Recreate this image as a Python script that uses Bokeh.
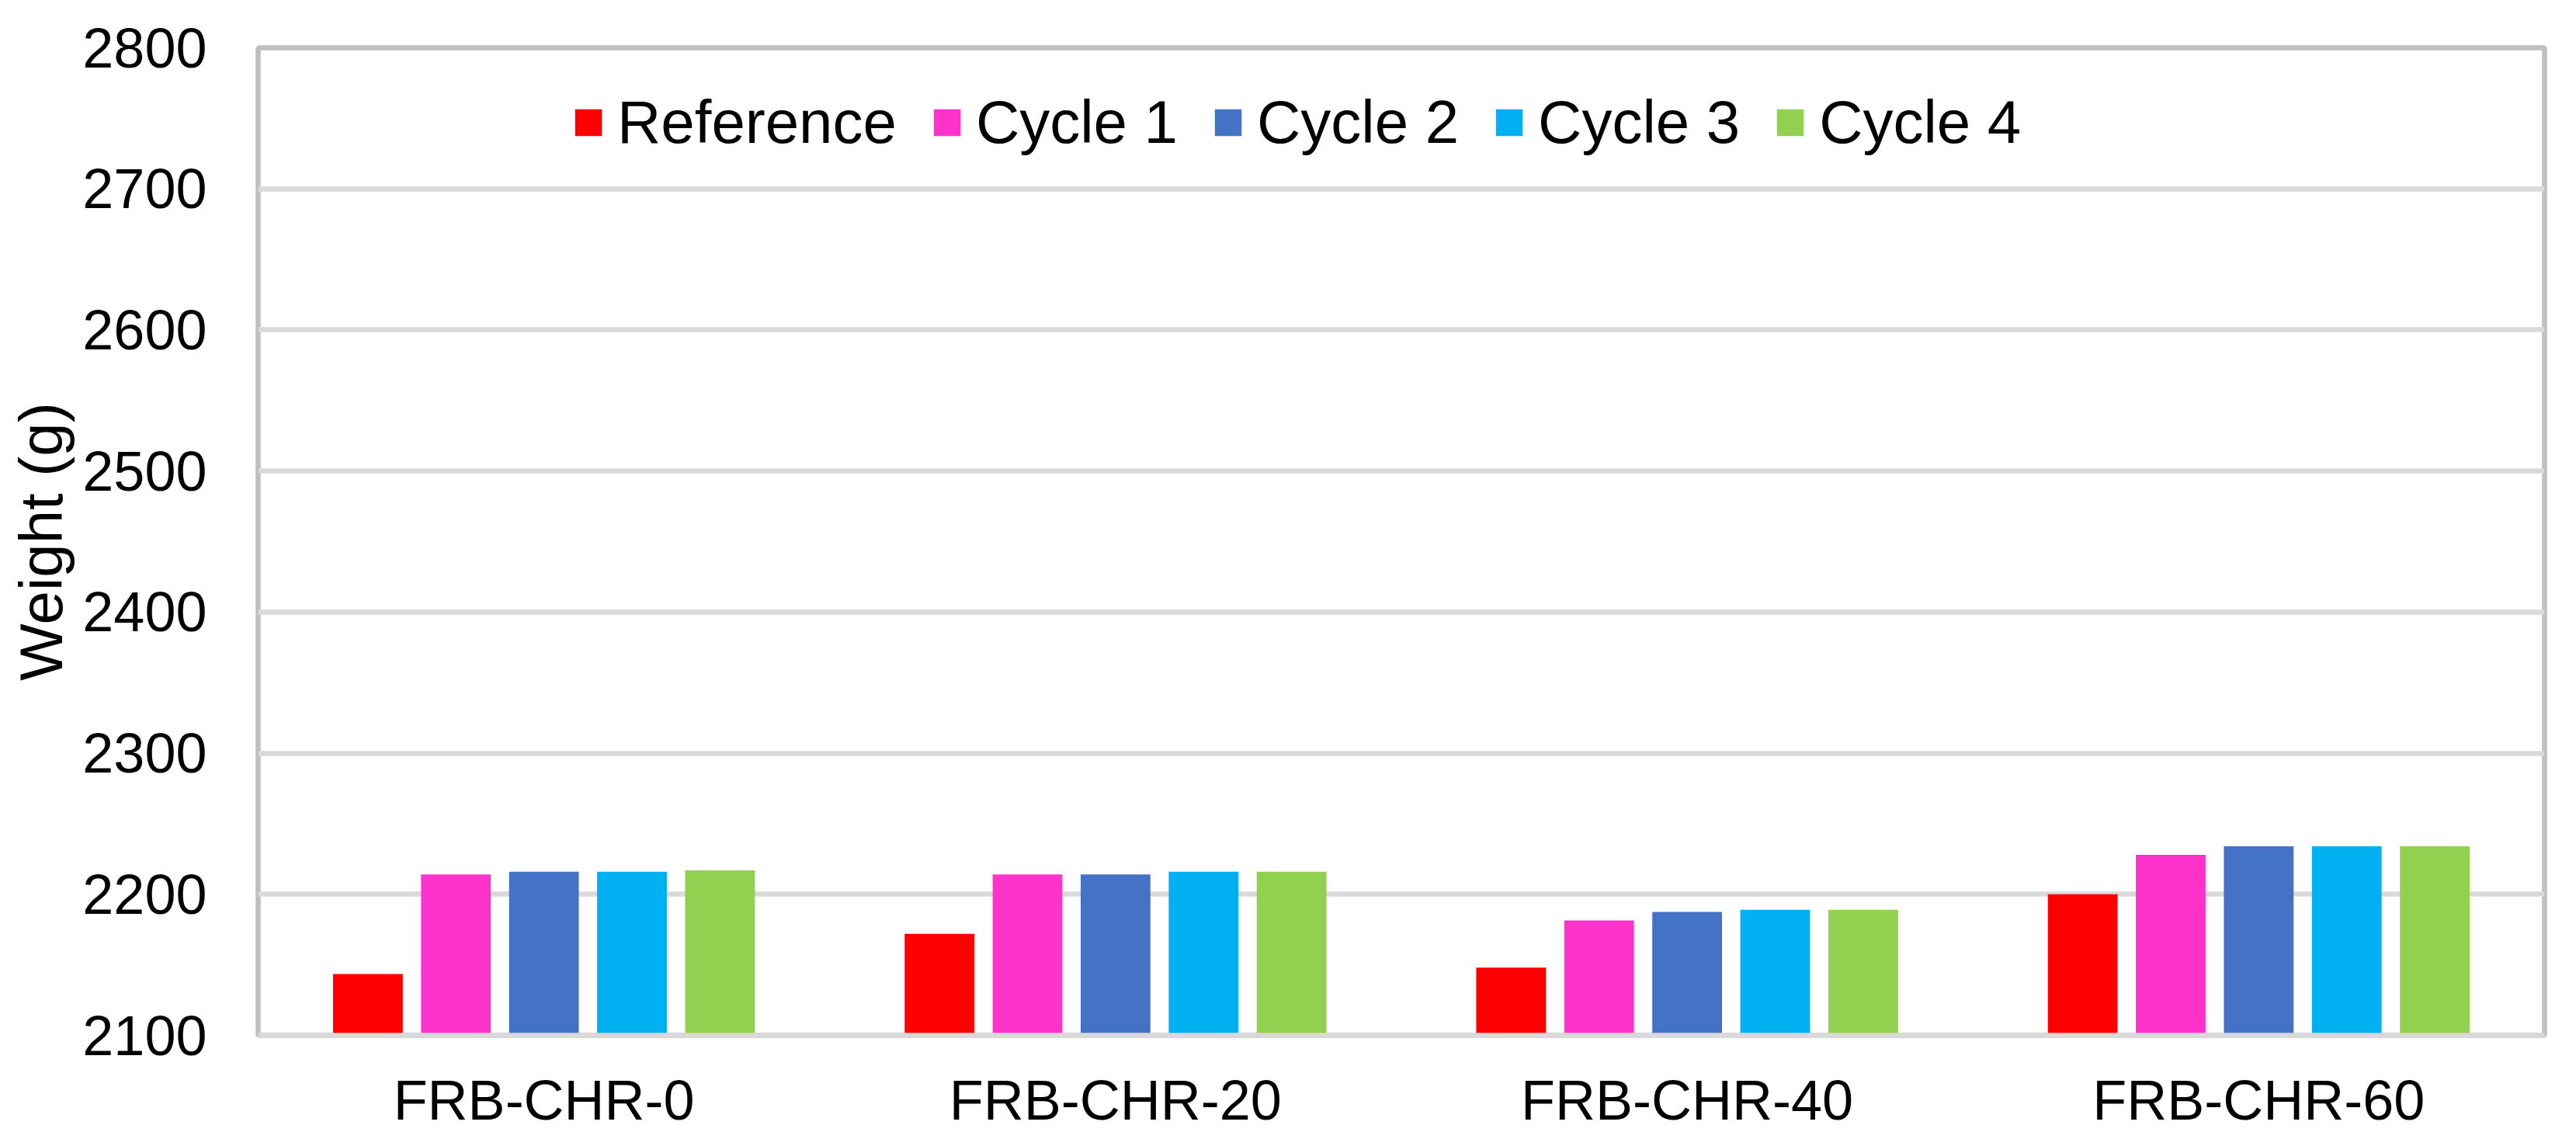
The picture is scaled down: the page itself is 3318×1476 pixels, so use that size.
from bokeh.plotting import figure
from bokeh.models import FactorRange, Range1d, FixedTicker, Legend, LegendItem, ColumnDataSource
from bokeh.transform import dodge
from bokeh.embed import file_html
from bokeh.resources import INLINE

categories = ["FRB-CHR-0", "FRB-CHR-20", "FRB-CHR-40", "FRB-CHR-60"]
series_names = ["Reference", "Cycle 1", "Cycle 2", "Cycle 3", "Cycle 4"]
reference = [2143.5, 2172, 2148, 2200]
cycle_1 = [2214, 2214, 2181.5, 2228]
cycle_2 = [2216, 2214, 2187.5, 2234]
cycle_3 = [2216, 2216, 2189, 2234]
cycle_4 = [2217, 2216, 2189, 2234]
colors = ["#FF0000", "#FF33CC", "#4472C4", "#00B0F0", "#92D050"]
y_ticks = [2100, 2200, 2300, 2400, 2500, 2600, 2700, 2800]

FONT = "Liberation Sans"

keys = ["reference", "cycle_1", "cycle_2", "cycle_3", "cycle_4"]
source = ColumnDataSource(data=dict(
    cat=categories, reference=reference, cycle_1=cycle_1,
    cycle_2=cycle_2, cycle_3=cycle_3, cycle_4=cycle_4))

p = figure(x_range=FactorRange(*categories), y_range=Range1d(y_ticks[0], y_ticks[-1]),
           width=3302, height=1460, output_backend="svg", toolbar_location=None,
           min_border_left=332, min_border_right=25, min_border_top=61, min_border_bottom=127)
p.x_range.range_padding = 0
p.x_range.factor_padding = 0

bar_w = 0.122
step = 0.154
renderers = []
for i, k in enumerate(keys):
    r = p.vbar(x=dodge("cat", (i - 2) * step, range=p.x_range), top=k, bottom=y_ticks[0],
               width=bar_w, source=source, fill_color=colors[i], line_color=None)
    renderers.append(r)

legend = Legend(items=[LegendItem(label=n, renderers=[r]) for n, r in zip(series_names, renderers)],
                orientation="horizontal", location=(404, 1130),
                glyph_width=43, glyph_height=43, label_standoff=16, spacing=43,
                padding=0, margin=0, border_line_color=None, background_fill_alpha=0,
                label_text_font=FONT, label_text_font_size="78px", label_text_color="#000000")
p.add_layout(legend)

p.outline_line_color = "#BFBFBF"
p.outline_line_width = 6.5
p.background_fill_color = "white"
p.border_fill_color = "white"

p.xgrid.grid_line_color = None
p.ygrid.grid_line_color = "#D9D9D9"
p.ygrid.grid_line_width = 6.5
p.yaxis.ticker = FixedTicker(ticks=y_ticks)

p.xaxis.axis_line_color = "#D9D9D9"
p.xaxis.axis_line_width = 6.5
p.xaxis.major_tick_line_color = None
p.xaxis.minor_tick_line_color = None
p.xaxis.major_tick_out = 0
p.xaxis.major_label_standoff = 43
p.xaxis.major_label_text_font = FONT
p.xaxis.major_label_text_font_size = "72px"
p.xaxis.major_label_text_color = "#000000"

p.yaxis.axis_line_color = None
p.yaxis.major_tick_line_color = None
p.yaxis.minor_tick_line_color = None
p.yaxis.major_tick_out = 0
p.yaxis.major_label_standoff = 66
p.yaxis.major_label_text_font = FONT
p.yaxis.major_label_text_font_size = "72px"
p.yaxis.major_label_text_color = "#000000"
p.yaxis.axis_label = "Weight (g)"
p.yaxis.axis_label_text_font = FONT
p.yaxis.axis_label_text_font_size = "78px"
p.yaxis.axis_label_text_font_style = "normal"
p.yaxis.axis_label_text_color = "#000000"
p.yaxis.axis_label_standoff = 6

open("out.html", "w").write(file_html(p, INLINE))
